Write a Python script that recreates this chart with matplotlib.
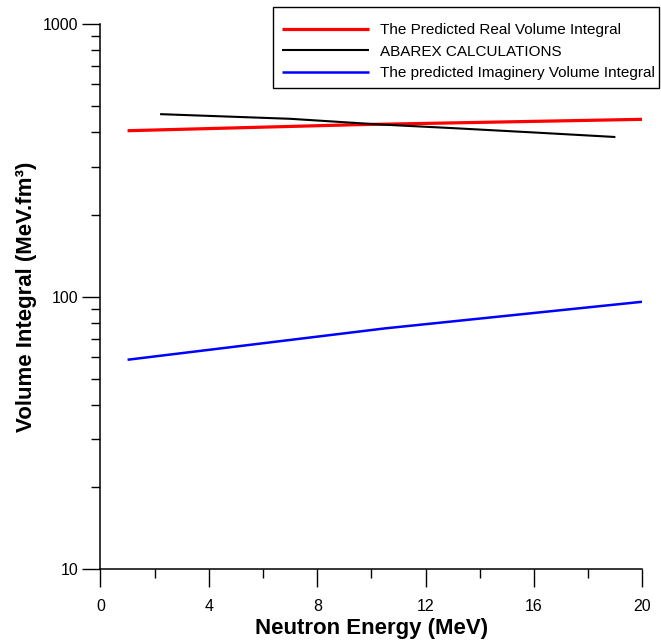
import numpy as np
import matplotlib.pyplot as plt
from matplotlib.patches import Rectangle
from matplotlib.ticker import FixedLocator, NullFormatter, LogLocator

plt.rcParams['font.family'] = ['Liberation Sans', 'DejaVu Sans']

# -------------------- данные --------------------
E_real = [1.0, 9.35, 20.0]
V_real = [406, 427, 447]

E_abarex = [2.2, 7.0, 10.3, 13.0, 16.0, 19.0]
V_abarex = [467, 449, 428, 415, 400, 385]

E_imag = [1.0, 10.5, 20.0]
V_imag = [58.7, 76.5, 95.8]

x_major = [0, 4, 8, 12, 16, 20]
x_minor = [2, 6, 10, 14, 18]

W, H = 661, 641

# -------------------- рисунок --------------------
fig = plt.figure(figsize=(W / 100, H / 100), dpi=100)
ax = fig.add_axes([0.152, 0.1118, 0.820, 0.8508])

l1, = ax.plot(E_real, V_real, color='#ff0000', lw=2.3, solid_capstyle='butt')
l2, = ax.plot(E_abarex, V_abarex, color='black', lw=1.5, solid_capstyle='butt')
l3, = ax.plot(E_imag, V_imag, color='#0000ff', lw=1.8, solid_capstyle='butt')

ax.set_yscale('log')
ax.set_xlim(0, 20)
ax.set_ylim(10, 1000)

ax.xaxis.set_major_locator(FixedLocator(x_major))
ax.xaxis.set_minor_locator(FixedLocator(x_minor))
ax.yaxis.set_major_locator(LogLocator(base=10))
ax.yaxis.set_minor_locator(LogLocator(base=10, subs=np.arange(2, 10)))
ax.yaxis.set_minor_formatter(NullFormatter())
ax.yaxis.set_major_formatter(plt.FuncFormatter(lambda v, p: f"{v:g}"))

ax.tick_params(axis='both', which='major', direction='out', length=13,
               width=1.0, labelsize=11.5)
ax.tick_params(axis='both', which='minor', direction='out', length=6.5,
               width=1.0)
ax.tick_params(axis='x', which='major', pad=8)
ax.tick_params(axis='y', which='major', pad=3)

for s in ['top', 'right']:
    ax.spines[s].set_visible(False)
for s in ['left', 'bottom']:
    ax.spines[s].set_linewidth(1.1)

ax.set_xlabel("Neutron Energy (MeV)", fontsize=16, fontweight='bold', labelpad=3)
ax.set_ylabel("Volume Integral (MeV.fm³)", fontsize=16, fontweight='bold', labelpad=4)

# легенда без рамки + рамка отдельно (как в оригинале)
leg = fig.legend([l1, l2, l3],
                 ["The Predicted Real Volume Integral",
                  "ABAREX CALCULATIONS",
                  "The predicted Imaginery Volume Integral"],
                 loc='upper left', bbox_to_anchor=(282 / W, 1 - 23 / H),
                 fontsize=11, frameon=False, handlelength=5.7,
                 handletextpad=0.72, labelspacing=0.5, borderpad=0,
                 borderaxespad=0)

fig.patches.append(Rectangle((273 / W, 1 - 88 / H), (659 - 273) / W, 81 / H,
                             transform=fig.transFigure, fill=False,
                             edgecolor='black', lw=1.0))

fig.savefig("out.png", dpi=100)
